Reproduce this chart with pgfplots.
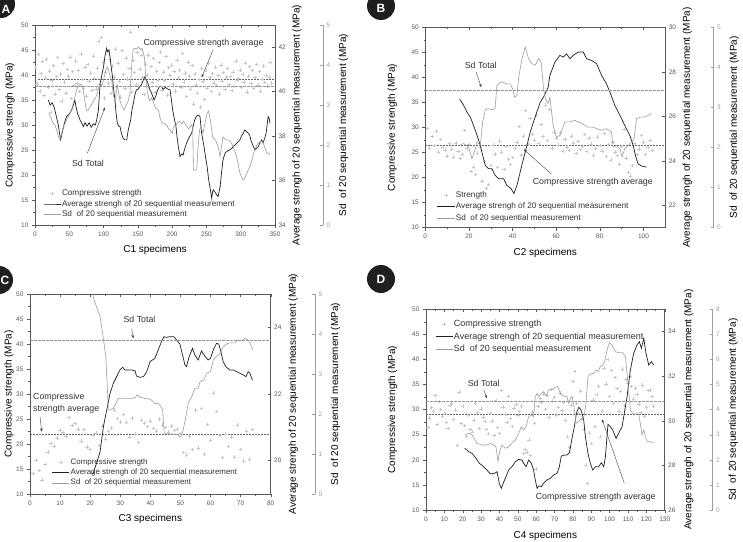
\documentclass[border=0pt]{standalone}
\usepackage{pgfplots}
\pgfplotsset{compat=1.18}
\usepackage{fontspec}
\setmainfont{Liberation Sans}
\usetikzlibrary{arrows.meta}
\definecolor{axc}{gray}{0.35}
\definecolor{sdc}{gray}{0.62}
\definecolor{scc}{gray}{0.78}
\definecolor{avc}{gray}{0.12}
\newcommand\tk{\fontsize{6.5}{7}\selectfont}
\newcommand\lb{\fontsize{8.6}{10}\selectfont}
\newcommand\an{\fontsize{8.8}{12.3}\selectfont}
\pgfplotsset{
  base/.style={scale only axis, anchor=south west,
    axis line style={axc, line width=0.5pt},
    tick style={axc, line width=0.4pt},
    major tick length=3pt, minor tick length=1.8pt,
    tick label style={font=\tk, text=axc},
    /pgf/number format/assume math mode=true,
    label style={font=\lb, text=black!80}},
  lyl/.style={every axis y label/.style={at={(axis description cs:0,0.5)}, xshift=#1, rotate=90, anchor=center}},
  mainax/.style={base, tick align=outside, tick pos=left, ymin=10, ymax=50, ytick={10,15,...,50}, minor y tick num=1,
    lyl=-33pt,
    every axis x label/.style={at={(axis description cs:0.5,0)}, yshift=-25pt, anchor=center},
    legend cell align=left,
    legend style={draw=none, fill=none, font=\fontsize{8.2}{9}\selectfont, text=black!80, anchor=west, row sep=1pt, nodes={inner sep=1pt}}},
  ryl/.style={every axis y label/.style={at={(axis description cs:1,0.5)}, xshift=#1, rotate=90, anchor=center}},
  avgax/.style={base, axis x line*=top, axis y line*=right, tick align=inside, xticklabels={},
    ryl=22pt, ylabel={Average strengh of 20 sequential measurement (MPa)}},
  sdhid/.style={scale only axis, anchor=south west, hide axis, ymin=0},
  sdax/.style={base, width=1pt, anchor=south east, xmin=0, xmax=1, axis x line=none, axis y line*=right, tick align=inside,
    axis line style={sdc}, tick style={sdc}, tick label style={text=sdc},
    ryl=20.5pt, ylabel={Sd\ \ of 20 sequential measurement (MPa)}},
  scat/.style={only marks, mark=+, mark size=1.7pt, scc, mark options={line width=0.45pt}},
  avgl/.style={avc, line width=0.7pt, no marks},
  sdl/.style={sdc, line width=0.6pt, no marks},
  avgdash/.style={black!60, line width=0.5pt, dash pattern=on 1.5pt off 1.5pt, no marks},
  sddash/.style={black!42, line width=0.5pt, dash pattern=on 2.5pt off 1.5pt, no marks},
}
\begin{document}
\begin{tikzpicture}
\path[use as bounding box, clip] (0,0) rectangle (743pt,541pt);
\fill[white] (0,0) rectangle (743pt,541pt);

%%%%%%%%%%%%%%%% PANEL A
\begin{axis}[mainax, at={(35pt,316pt)}, width=240pt, height=200pt, xmin=0, xmax=350, xtick={0,50,...,350}, minor x tick num=1,
  xlabel={C1 specimens}, ylabel={Compressive strengh (MPa)}, lyl=-25pt,
  legend style={at={(axis description cs:0.021,0.105)}}]
\addplot[scat] coordinates {(1,41.5)(3,38.2)(5,44.1)(7,36.8)(9,40.3)(11,42.7)(13,35.9)(15,39.4)(17,43.2)(19,37.6)
(21,40.8)(23,32.5)(25,38.9)(27,41.9)(29,36.2)(31,39.7)(33,43.5)(35,37.1)(37,40.2)(39,34.8)
(41,42.3)(43,38.6)(45,36.4)(47,41.1)(49,39.8)(51,43.6)(53,35.3)(55,40.7)(57,37.9)(59,42.8)
(61,38.3)(63,40.9)(65,36.7)(67,44.2)(69,39.1)(71,37.4)(73,41.6)(75,35.8)(77,42.1)(79,38.8)
(81,40.4)(83,36.9)(85,43.8)(87,39.3)(89,37.2)(91,41.4)(93,46.8)(95,38.1)(97,47.5)(99,42.6)
(101,35.4)(103,40.6)(105,44.7)(107,38.4)(109,43.1)(111,36.3)(113,41.8)(115,39.6)(117,45.2)(119,37.7)
(121,42.4)(123,38.7)(125,35.6)(127,44.9)(129,40.1)(131,37.3)(133,43.4)(135,39.2)(137,41.3)(139,48.6)
(141,36.6)(143,42.9)(145,40.5)(147,38.0)(149,44.5)(151,37.8)(153,41.2)(155,43.9)(157,39.5)(159,36.1)
(161,42.2)(163,40.0)(165,44.0)(167,37.5)(169,41.7)(171,38.5)(173,43.3)(175,36.5)(177,40.8)(179,39.0)
(181,42.5)(183,44.6)(185,37.0)(187,40.6)(189,38.9)(191,43.7)(193,36.0)(195,41.5)(197,39.9)(199,42.0)
(201,38.2)(203,40.7)(205,36.8)(207,43.0)(209,39.4)(211,41.0)(213,37.6)(215,44.3)(217,38.6)(219,40.4)
(221,35.7)(223,42.6)(225,39.8)(227,37.2)(229,41.9)(231,34.2)(233,40.2)(235,38.0)(237,36.4)(239,39.1)
(241,33.6)(243,41.4)(245,38.7)(247,35.1)(249,40.9)(251,37.4)(253,42.3)(255,39.5)(257,36.7)(259,40.3)
(261,38.4)(263,41.6)(265,37.9)(267,39.9)(269,36.2)(271,42.0)(273,38.8)(275,40.5)(277,37.1)(279,39.6)
(281,41.3)(283,38.1)(285,39.7)(287,36.9)(289,40.6)(291,37.7)(293,42.8)(295,38.9)(297,39.3)(299,41.0)
(301,37.5)(303,40.1)(305,38.6)(307,42.4)(309,36.6)(311,39.8)(313,41.7)(315,38.3)(317,40.9)(319,37.3)
(321,39.5)(323,42.1)(325,38.0)(327,40.7)(329,36.8)(331,39.2)(333,41.8)(335,38.5)(337,40.0)(339,37.8)
(341,39.6)(343,42.5)(345,38.4)};
\addlegendentry{Compressive strength}
\addplot[avgdash, forget plot] coordinates {(0,39.2)(350,39.2)};
\addlegendimage{avgl}\addlegendentry{Average strengh of 20 sequential measurement}
\addlegendimage{sdl}\addlegendentry{Sd\ \ of 20 sequential measurement}
\end{axis}
\begin{axis}[avgax, at={(35pt,316pt)}, width=240pt, height=200pt, xmin=0, xmax=350, xtick={0,50,...,350}, minor x tick num=1,
  ymin=34, ymax=43, ytick={34,36,...,42}]
\addplot[avgl] coordinates {(19.4,39.63)(22,39.4)(25,39.5)(28,39.3)(31,38.9)(34,38.5)(35,38.28)(37.4,37.83)(40,38.2)(43,38.6)(46,38.88)(50,39.0)(53.5,39.18)(56,39.4)(58,39.63)(60,39.3)(62,39.03)(65.6,38.73)(68,38.6)(70.5,38.43)(73,38.6)(76,38.45)(79,38.6)(82,38.4)(85,38.55)(88,38.5)(90,38.73)(92.5,39.18)(95,40.38)(100,41.13)(102,41.6)(104.5,41.95)(106,41.8)(108,41.88)(110,41.4)(111,41.13)(113,40.68)(115,40.0)(116.7,39.63)(118,39.1)(120,38.58)(122,38.45)(124,38.43)(126,38.13)(128.5,37.9)(131,37.83)(133.7,37.83)(136,38.28)(139.5,38.73)(141.5,39.2)(143.4,39.47)(146,39.9)(148,40.08)(150,40.1)(153,40.23)(155,40.3)(158,40.53)(160.4,40.68)(162.5,40.5)(164,40.45)(166.7,40.15)(170,39.93)(173.6,39.63)(176,39.78)(178,40.0)(180,40.15)(182,40.25)(184.7,40.23)(187,40.1)(190,40.2)(192,40.15)(195,40.1)(197,40.08)(199,39.6)(200.8,39.18)(203,38.8)(205.6,38.43)(207,38.0)(209,37.53)(211.5,37.08)(214,37.2)(216,37.15)(218,37.4)(221,37.68)(224,37.9)(226,38.0)(228.5,38.13)(231,38.5)(233,38.73)(235.5,38.9)(238,38.95)(240.6,38.88)(243,38.13)(246.5,37.53)(249,37.0)(251,36.63)(253,36.1)(255,35.73)(257.7,35.2)(259,35.5)(260,35.58)(262,35.5)(265,35.35)(267,35.28)(270,35.73)(272,36.33)(274,36.9)(275.6,37.08)(277.5,37.25)(279.5,37.3)(282,37.35)(284,37.38)(287,37.45)(289,37.53)(291.5,37.6)(294,37.68)(296.5,37.75)(299,37.83)(301,38.0)(303.8,38.13)(306,38.28)(308.5,38.2)(311,38.13)(313,38.05)(315,37.8)(318.4,37.53)(321,37.38)(323,37.45)(325.7,37.53)(328,37.7)(330.6,37.83)(332.5,37.7)(335,37.9)(337,38.13)(338.5,38.5)(340,38.88)(341.5,38.8)(342.7,38.58)};
\end{axis}
\begin{axis}[sdhid, at={(35pt,316pt)}, width=240pt, height=200pt, xmin=0, xmax=350, ymax=5]
\addplot[sdl] coordinates {(20,2.8)(23,2.7)(26,2.55)(29,2.5)(32,2.35)(34.5,2.2)(36.5,2.125)(39,2.3)(41.5,2.45)(44,2.54)(46.5,2.65)(48.6,2.71)(51,2.8)(54.8,2.96)(57.5,3.15)(60.6,3.375)(62.5,3.45)(64.4,3.5)(66.5,3.52)(69.2,3.47)(71,3.3)(72.5,3.125)(74.8,2.875)(77,2.85)(79,2.92)(81,2.96)(83.5,3.05)(85.8,3.125)(89,3.2)(91,3.3)(93,3.45)(95,3.46)(98,3.5)(101,3.7)(103,3.85)(105,3.95)(107,3.9)(109,3.75)(111.8,3.625)(114,3.3)(116,3.1)(118,3.25)(120,3.5)(122,3.3)(124,3.1)(127,2.95)(130,2.875)(133,3.0)(136,3.1)(138.5,3.3)(140,3.7)(141.5,4.1)(143,4.37)(145,4.42)(148,4.4)(151,4.45)(154,4.38)(156,4.42)(158,4.3)(159.5,4.2)(160.5,3.96)(162,3.6)(164,3.3)(167,3.1)(170,3.18)(173,3.05)(176,2.92)(180,2.875)(182,2.7)(185,2.55)(188,2.54)(192,2.5)(195,2.4)(197,2.375)(200,2.29)(202,2.45)(205,2.5)(208,2.55)(211,2.6)(214,2.52)(216,2.6)(218.7,2.54)(221,2.48)(224,2.4)(226,2.45)(228.5,2.5)(230,2.45)(231,1.375)(233,1.375)(236,1.38)(237.5,1.9)(240,2.375)(242,2.45)(245,2.3)(248,2.55)(251,2.79)(253,2.85)(256,2.6)(259,2.2)(262,2.15)(264,2.1)(267,1.96)(270,1.71)(272,1.96)(274,2.2)(277,2.15)(281,2.12)(284,2.12)(289,1.96)(294,1.71)(297,1.46)(299,1.29)(301,1.2)(303,1.125)(306,1.18)(309,1.3)(311,1.375)(315,1.54)(318,1.75)(321,1.9)(323.5,2.0)(325.7,2.04)(328,2.08)(331,2.1)(334,2.0)(336,1.9)(338,1.79)(340,1.8)(342.7,1.76)};
\addplot[sddash] coordinates {(0,3.47)(350,3.47)};
\end{axis}
\begin{axis}[sdax, at={(323pt,316pt)}, height=200pt, ymin=0, ymax=5, ytick={0,1,...,5}]
\end{axis}

%%%%%%%%%%%%%%%% PANEL B
\begin{axis}[mainax, at={(425.3pt,313.3pt)}, width=240pt, height=200.4pt, xmin=0, xmax=110, xtick={0,20,...,100}, minor x tick num=1,
  xlabel={C2 specimens}, ylabel={Compressive strength (MPa)}, legend style={at={(axis description cs:0.036,0.105)}, row sep=2pt}]
\addplot[scat] coordinates {(1,29.8)(2,25.9)(3,28.2)(4,26.4)(5,29.3)(6,25.1)(7,27.6)(8,26.0)(9,25.5)(10,24.3)
(11,26.8)(12,25.7)(13,24.1)(14,26.9)(15,25.2)(16,23.8)(17,24.6)(18,29.4)(19,25.8)(20,26.6)
(21,21.2)(22,22.1)(23,20.6)(24,24.9)(25,26.0)(26,19.3)(27,23.2)(28,17.9)(29,18.6)(30,22.4)
(31,26.5)(32,24.7)(33,22.0)(34,27.3)(35,25.1)(36,21.6)(37,26.2)(38,23.7)(39,22.6)(40,24.0)
(41,25.8)(42,27.1)(43,30.2)(44,24.5)(45,28.3)(46,33.4)(47,26.6)(48,31.8)(49,28.7)(50,27.5)
(51,32.4)(52,26.8)(53,30.6)(54,28.2)(55,34.5)(56,27.4)(57,33.6)(58,25.9)(59,29.1)(60,27.8)
(61,26.5)(62,28.9)(63,25.3)(64,27.7)(65,26.1)(66,25.4)(67,28.3)(68,26.9)(69,24.8)(70,27.2)
(71,25.6)(72,26.3)(73,28.6)(74,25.2)(75,27.9)(76,26.7)(77,24.5)(78,25.8)(79,28.1)(80,26.4)
(81,25.3)(82,28.8)(83,24.2)(84,26.6)(85,23.5)(86,27.0)(87,25.1)(88,24.4)(89,22.7)(90,26.2)
(91,29.6)(92,23.9)(93,21.0)(94,20.3)(95,22.4)(96,26.8)(97,24.6)(98,25.7)(99,28.4)(100,27.1)
(101,24.6)(102,26.0)(103,27.4)(104,25.5)};
\addlegendentry{Strength}
\addplot[avgdash, forget plot] coordinates {(0,26.36)(110,26.36)};
\addlegendimage{avgl}\addlegendentry{Average strengh of 20 sequential measurement}
\addlegendimage{sdl}\addlegendentry{Sd\ \ of 20 sequential measurement}
\end{axis}
\begin{axis}[avgax, at={(425.3pt,313.3pt)}, width=240pt, height=200.4pt, xmin=0, xmax=110, xtick={0,20,...,100}, minor x tick num=1,
  ymin=21, ymax=30, ytick={22,24,...,30}]
\addplot[avgl] coordinates {(15.7,26.79)(17.6,26.49)(19.1,26.19)(20.6,25.97)(22.1,25.6)(23.7,25.15)(25.2,24.7)(26.3,24.25)(27.5,23.8)(29,23.65)(30.5,23.65)(32,23.35)(33.6,23.2)(35.9,23.2)(37.4,22.9)(39.4,22.75)(40.6,22.53)(42,22.9)(43.5,23.5)(45,24.1)(46.6,24.7)(48.1,25.3)(49.6,25.75)(51.1,26.19)(52.7,26.64)(54.2,26.87)(56.3,27.3)(57.1,27.84)(59.4,28.44)(61.7,28.74)(63.2,28.66)(64.7,28.81)(66.3,28.59)(67.8,28.74)(70.1,28.89)(72.4,28.89)(73.9,28.59)(76.2,28.51)(78.5,28.37)(80.8,27.84)(83,27.47)(84.6,27.09)(86.9,26.49)(89.2,26.04)(91.4,25.6)(93.7,25.15)(95.3,24.7)(96.3,24.25)(97.5,23.87)(99.1,23.77)(101.4,23.72)};
\end{axis}
\begin{axis}[sdhid, at={(425.3pt,313.3pt)}, width=240pt, height=200.4pt, xmin=0, xmax=110, ymax=5]
\addplot[sdl] coordinates {(15.3,2.05)(17.6,2.1)(19.8,2.01)(21.4,1.72)(22.9,1.97)(23.7,2.14)(25.2,2.05)(26.3,2.64)(27.5,2.95)(29,2.97)(30.5,2.94)(32,2.98)(32.8,3.55)(33.6,3.59)(35.1,3.64)(37.4,3.59)(38.9,3.59)(40,3.47)(40.9,3.26)(42,3.3)(42.7,3.72)(44.3,4.22)(45.8,4.51)(47.3,4.22)(48.9,4.09)(50.4,4.05)(51.9,4.22)(53.1,4.13)(54.2,3.47)(55,3.22)(56.3,3.1)(57.1,3.25)(58.6,2.55)(60.1,2.26)(61.7,2.3)(64,2.64)(66.3,2.64)(68.5,2.68)(71.6,2.6)(74.6,2.51)(76.9,2.51)(78.5,2.47)(80.8,2.43)(83,2.47)(85.3,2.39)(86.1,2.01)(87.6,2.05)(89.2,1.97)(90.2,1.76)(91.4,1.97)(93,2.05)(94.5,2.14)(95.7,2.22)(96.8,2.72)(98.3,2.76)(100.6,2.76)(102.1,2.8)(103.7,2.85)};
\addplot[sddash] coordinates {(0,3.42)(110,3.42)};
\end{axis}
\begin{axis}[sdax, at={(713.7pt,313.3pt)}, height=200.4pt, ymin=0, ymax=5, ytick={0,1,...,5}]
\end{axis}

%%%%%%%%%%%%%%%% PANEL C
\begin{axis}[mainax, at={(30pt,47pt)}, width=240.7pt, height=200pt, xmin=0, xmax=80, xtick={0,10,...,80}, minor x tick num=1,
  xlabel={C3 specimens}, ylabel={Compressive strength (MPa)}, lyl=-21pt,
  legend style={at={(axis description cs:0.078,0.107)}, font=\fontsize{7.9}{9}\selectfont}]
\addplot[scat] coordinates {(1,14.1)(2,16.8)(3,14.7)(4,12.8)(5,15.9)(6,18.4)(7,20.1)(8,19.6)(9,21.2)(10,22.8)
(11,22.3)(12,21.5)(13,25.3)(14,23.7)(15,24.1)(16,23.0)(17,20.6)(18,22.9)(19,19.4)(20,18.9)
(21,21.8)(22,22.2)(23,19.7)(24,23.6)(25,21.0)(26,22.5)(27,23.2)(28,26.8)(29,25.1)(30,24.4)
(31,25.9)(32,24.3)(33,21.4)(34,25.2)(35,22.0)(36,20.3)(37,24.8)(38,24.2)(39,23.5)(40,24.6)
(41,23.1)(42,22.6)(43,25.0)(44,23.8)(45,23.3)(46,22.4)(47,23.6)(48,22.8)(49,23.0)(50,22.1)
(51,18.3)(52,17.8)(53,21.5)(54,18.9)(55,26.8)(56,19.2)(57,27.1)(58,18.0)(59,23.9)(60,20.8)
(61,30.2)(62,26.5)(63,21.7)(64,17.3)(65,22.0)(66,19.5)(67,21.4)(68,17.4)(69,23.8)(70,18.9)
(71,16.6)(72,22.6)(73,17.0)(74,22.9)};
\addlegendentry{Compressive strength}
\addplot[avgdash, forget plot] coordinates {(0,22)(80,22)};
\addlegendimage{avgl}\addlegendentry{Average strengh of 20 sequential measurement}
\addlegendimage{sdl}\addlegendentry{Sd\ \ of 20 sequential measurement}
\end{axis}
\begin{axis}[avgax, at={(30pt,47pt)}, width=240.7pt, height=200pt, xmin=0, xmax=80, xtick={0,10,...,80}, minor x tick num=1,
  ymin=19, ymax=25, ytick={20,22,24}, ryl=22.6pt]
\addplot[avgl] coordinates {(20.5,19.6)(21,19.62)(22.2,19.95)(23.3,20.27)(24.4,21.02)(25.5,21.52)(26.6,22.02)(27.7,22.32)(28.8,22.52)(29.9,22.72)(30.8,22.8)(31.6,22.72)(33.8,22.72)(34.9,22.7)(35.4,22.54)(36.5,22.5)(37.7,22.52)(38.8,22.67)(39.9,22.97)(41.5,23.07)(42.6,23.32)(43.7,23.57)(44.5,23.72)(45.4,23.7)(46.5,23.72)(47.8,23.72)(48.7,23.62)(49.8,23.5)(50.7,23.17)(51.5,22.87)(52,22.82)(52.9,23.12)(54,23.37)(54.8,23.17)(55.9,23.02)(57,23.29)(58.1,23.14)(59.2,23.02)(60,23.07)(60.9,23.32)(62,23.52)(62.7,23.5)(63.3,23.32)(64.2,22.97)(65.1,22.82)(66.4,22.72)(67.6,22.72)(68.7,22.67)(69.8,22.62)(70.9,22.57)(71.8,22.52)(72.5,22.67)(73.1,22.62)(73.9,22.42)};
\end{axis}
\begin{axis}[sdhid, at={(30pt,47pt)}, width=240.7pt, height=200pt, xmin=0, xmax=80, ymax=5]
\addplot[sdl] coordinates {(20.3,5.2)(21.3,4.85)(22.1,4.68)(23.3,4.43)(23.8,4.18)(24.6,3.77)(25.2,3.43)(25.7,2.68)(26,2.1)(26.6,2.1)(27.7,2.14)(28.6,2.27)(29.3,2.39)(30.5,2.39)(32.1,2.39)(33.8,2.39)(34.9,2.41)(35.7,2.48)(36.5,2.42)(38.2,2.39)(39.9,2.37)(41,2.31)(41.5,2.25)(42.3,2.28)(43.2,2.22)(44.1,2.1)(44.6,1.52)(45.4,1.5)(47.6,1.5)(49.3,1.48)(49.8,1.42)(50.4,1.48)(50.9,1.6)(51.8,1.93)(52.6,2.27)(53.7,2.43)(54.8,2.64)(55.9,2.64)(56.5,2.81)(57.8,2.85)(58.7,3.02)(60,3.06)(60.9,3.35)(61.8,3.43)(62.6,3.48)(63.3,3.52)(64.2,3.68)(65.3,3.75)(66.4,3.78)(68.1,3.78)(69.2,3.85)(70.3,3.83)(71.4,3.89)(72.5,3.85)(73.3,3.75)(74,3.6)};
\addplot[sddash] coordinates {(0,3.85)(80,3.85)};
\end{axis}
\begin{axis}[sdax, at={(315pt,47pt)}, height=200pt, ymin=0, ymax=5, ytick={0,1,...,5}]
\end{axis}

%%%%%%%%%%%%%%%% PANEL D
\begin{axis}[mainax, at={(426pt,31pt)}, width=238.7pt, height=200.7pt, xmin=0, xmax=130, xtick={0,10,...,130}, minor x tick num=1,
  xlabel={C4 specimens}, ylabel={Compressive strength (MPa)}, lyl=-33.5pt,
  every axis x label/.append style={yshift=-1pt},
  legend style={at={(axis description cs:0.025,0.863)}, font=\fontsize{9}{10}\selectfont, row sep=2.6pt}]
\addplot[scat] coordinates {(1,26.5)(2,28.3)(3,30.4)(4,29.7)(5,32.8)(6,27.1)(7,31.6)(8,30.0)(9,28.6)(10,29.2)
(11,27.4)(12,26.2)(13,30.9)(14,31.3)(15,28.0)(16,29.9)(17,22.9)(18,33.5)(19,27.2)(20,30.6)
(21,26.8)(22,24.7)(23,28.9)(24,26.1)(25,25.6)(26,27.9)(27,31.2)(28,29.4)(29,26.3)(30,30.1)
(31,28.5)(32,27.6)(33,26.0)(34,25.2)(35,29.3)(36,27.7)(37,24.9)(38,31.8)(39,26.4)(40,25.3)
(41,33.8)(42,30.5)(43,29.1)(44,27.4)(45,32.7)(46,28.2)(47,26.7)(48,30.3)(49,31.0)(50,28.8)
(51,29.6)(52,30.7)(53,21.3)(54,22.1)(55,21.6)(56,24.0)(57,20.9)(58,29.5)(59,27.3)(60,18.2)
(61,30.6)(62,32.2)(63,31.5)(64,33.1)(65,30.0)(66,32.8)(67,28.4)(68,34.0)(69,31.7)(70,32.5)
(71,28.9)(72,30.4)(73,33.3)(74,29.8)(75,31.4)(76,27.8)(77,24.6)(78,22.5)(79,30.9)(80,35.6)
(81,37.6)(82,31.3)(83,29.2)(84,33.7)(85,28.1)(86,26.0)(87,19.0)(88,15.3)(89,25.4)(90,23.2)
(91,31.9)(92,26.7)(93,33.0)(94,34.7)(95,24.6)(96,29.7)(97,38.3)(98,35.1)(99,40.0)(100,32.6)
(101,37.8)(102,31.2)(103,36.4)(104,34.2)(105,29.6)(106,33.6)(107,38.1)(108,30.8)(109,36.0)(110,35.3)
(111,36.6)(112,34.6)(113,32.1)(114,34.3)(115,33.0)(116,31.1)(117,29.4)(118,34.9)(119,28.7)(120,30.5)
(121,33.8)(122,33.9)(123,32.6)(124,30.7)};
\addlegendentry{Compressive strength}
\addplot[avgdash, forget plot] coordinates {(0,29.1)(130,29.1)};
\addlegendimage{avgl}\addlegendentry{Average strengh of 20 sequential measurement}
\addlegendimage{sdl}\addlegendentry{Sd\ \ of 20 sequential measurement}
\end{axis}
\begin{axis}[avgax, at={(426pt,31pt)}, width=238.7pt, height=200.7pt, xmin=0, xmax=130, xtick={0,10,...,130}, minor x tick num=1,
  ymin=26, ymax=35, ytick={26,28,...,34}, ryl=24pt]
\addplot[avgl] coordinates {(21.1,28.77)(23.2,28.62)(25.1,28.54)(27.2,28.32)(29,28.1)(31.4,27.94)(33.2,27.79)(35,27.62)(37.4,27.65)(38.7,27.72)(39.9,27.2)(41,26.97)(42.8,27.35)(45,27.79)(46.8,27.94)(48.7,28.17)(50.5,28.27)(52.3,28.24)(53.2,28.09)(54.5,27.94)(55.9,28.24)(57.4,28.09)(58.6,27.79)(59.5,27.35)(60.5,26.97)(61.4,27.08)(62.8,27.05)(64.1,27.2)(65.9,27.35)(67.7,27.42)(69.5,27.57)(71.4,27.65)(72.6,27.94)(73.7,28.42)(75.5,28.47)(76.8,28.47)(78.1,28.57)(79.5,29.21)(80.8,29.74)(81.9,30.34)(83.2,30.61)(84.4,30.49)(85.9,30.04)(86.8,29.29)(88.2,28.54)(89.5,28.09)(90.8,27.79)(92.2,27.94)(94,27.94)(95.5,28.12)(96.8,27.94)(97.7,28.39)(99.1,29.84)(100.4,29.74)(101.7,29.59)(103.5,29.21)(104.9,29.44)(106.8,29.74)(108,30.34)(109.5,31.08)(111.3,32.28)(113.1,33.03)(114.9,33.4)(116.2,33.55)(117.3,33.25)(118.6,33.7)(119.8,33.03)(121.3,32.5)(122.7,32.65)(124,32.5)};
\end{axis}
\begin{axis}[sdhid, at={(426pt,31pt)}, width=238.7pt, height=200.7pt, xmin=0, xmax=130, ymax=8]
\addplot[sdl] coordinates {(21.1,2.99)(23.2,3.06)(25.1,2.99)(27.8,2.66)(30.5,2.59)(33.2,2.59)(35,2.66)(36.9,2.59)(38.1,2.52)(39.2,1.93)(40.3,2.39)(41.4,2.59)(43.2,2.46)(45,2.52)(46.8,2.66)(48.7,2.79)(50.5,3.06)(51.9,3.32)(53.2,3.19)(54.5,3.32)(55.9,3.72)(57.4,3.79)(58.6,3.72)(59.5,4.52)(60.5,4.65)(61.4,4.52)(62.8,4.65)(64.1,4.72)(65.4,4.54)(66.8,4.78)(68.6,4.81)(70.4,4.89)(71.7,4.92)(73.2,4.65)(75,4.54)(76.8,4.52)(77.7,4.25)(78.6,4.45)(79.5,4.54)(80.4,4.25)(81.7,3.46)(83.2,3.52)(84.6,3.65)(86.1,3.72)(87.1,4.25)(88.2,5.32)(89.5,5.42)(91.3,5.45)(92.6,5.58)(93.7,5.52)(94.9,5.71)(96.2,5.78)(97.3,5.91)(98.6,6.38)(99.9,6.67)(101.3,6.58)(103.1,6.31)(104.9,6.27)(107.1,6.27)(108.6,6.11)(110,5.05)(111.3,3.99)(112.6,3.83)(114.4,3.83)(115.8,3.83)(116.7,3.46)(117.6,2.99)(118.6,3.19)(119.5,2.92)(120.4,2.72)(122.2,2.72)(124,2.68)};
\addplot[sddash] coordinates {(0,4.34)(130,4.34)};
\end{axis}
\begin{axis}[sdax, at={(712.7pt,31pt)}, height=200.7pt, ymin=0, ymax=8, ytick={0,1,...,8}]
\end{axis}

%%%%%%%%%%%%%%%% annotations
\tikzset{ann/.style={black!75, line width=0.4pt, -{Stealth[length=3.5pt,width=2.6pt]}}}
\node[font=\an, text=black!80] at (203.5pt,498pt) {Compressive strength average};
\draw[ann] (213pt,491pt) -- (201.7pt,463.7pt);
\node[font=\an, text=black!80] at (88pt,378pt) {Sd Total};
\draw[ann] (87.3pt,387.7pt) -- (105pt,433.7pt);

\node[font=\an, text=black!80] at (480.7pt,476pt) {Sd Total};
\draw[ann] (476pt,469.3pt) -- (481.3pt,453.7pt);
\node[font=\an, text=black!80] at (592.8pt,358.3pt) {Compressive strength average};
\draw[ann] (551.3pt,367pt) -- (523.7pt,391.7pt);

\node[font=\an, text=black!80] at (139.5pt,221.7pt) {Sd Total};
\draw[ann] (131.7pt,212pt) -- (133.3pt,202.5pt);
\node[font=\an, text=black!80, align=left, anchor=west, inner sep=0pt] at (33pt,137.5pt) {Compressive\\strength average};
\draw[ann] (40pt,124.3pt) -- (41.7pt,109.3pt);

\node[font=\an, text=black!80] at (483.7pt,157.7pt) {Sd Total};
\draw[ann] (483.7pt,151pt) -- (487pt,142.7pt);
\node[font=\an, text=black!80] at (595.7pt,43.3pt) {Compressive strength average};
\draw[ann] (624.3pt,57.7pt) -- (602pt,121.7pt);

%%%%%%%%%%%%%%%% panel letters
\foreach \cx/\cy/\lx/\ly/\L in {1/537/6/532/A, 381/535/381/533/B, -1/261/5/261/C, 381/262/381/262/D}{
  \fill[black!88] (\cx pt,\cy pt) circle (14pt);
  \node[text=white, font=\fontsize{12}{12}\selectfont\bfseries] at (\lx pt,\ly pt) {\L};
}
\end{tikzpicture}
\end{document}
